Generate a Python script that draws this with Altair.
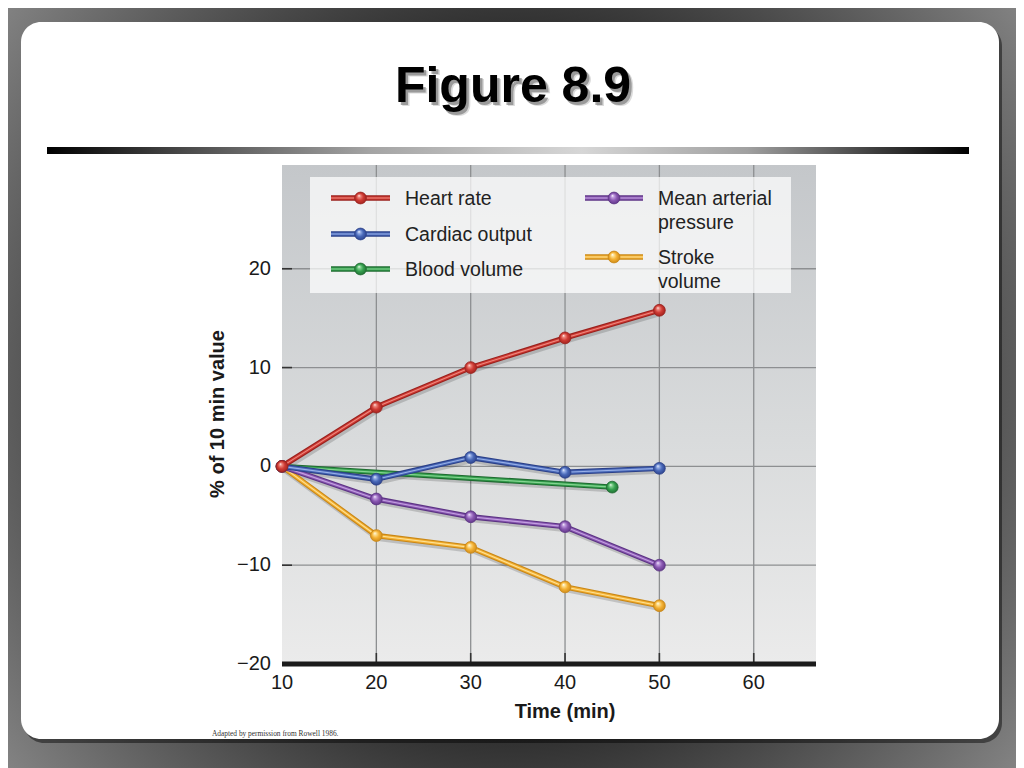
import altair as alt
import pandas as pd

# ---------------- data ----------------
time_min = [10, 20, 30, 40, 50]
heart_rate = [0, 6.0, 10.0, 13.0, 15.8]
cardiac_output = [0, -1.3, 0.9, -0.6, -0.2]
mean_arterial_pressure = [0, -3.3, -5.1, -6.1, -10.0]
stroke_volume = [0, -7.0, -8.2, -12.2, -14.1]
blood_volume_time = [10, 45]
blood_volume = [0, -2.1]

series_names = ["Heart rate", "Cardiac output", "Blood volume",
                "Mean arterial pressure", "Stroke volume"]
legend_labels = ["Heart rate", "Cardiac output", "Blood volume",
                 "Mean arterial\npressure", "Stroke\nvolume"]
x_ticks = [10, 20, 30, 40, 50, 60]
y_ticks = [-20, -10, 0, 10, 20]
grid_x = [20, 30, 40, 50, 60]
grid_y = [-10, 0, 10, 20]

title_text = "Figure 8.9"
x_title = "Time (min)"
y_title = "% of 10 min value"
source_note = "Adapted by permission from Rowell 1986."

# ---------------- styles ----------------
W, H = 534, 499
SVG_W, SVG_H = 1008, 760
PAD_L, PAD_T = 274, 157
FONT = "Liberation Sans"

palette = {  # base, dark edge, light highlight
    "Heart rate": ("#cf3a33", "#9a211d", "#ee8a80"),
    "Cardiac output": ("#4868b8", "#2b4089", "#98b0e8"),
    "Blood volume": ("#35a04e", "#1f6b31", "#86d492"),
    "Mean arterial pressure": ("#8a58b2", "#5c3384", "#c4a2e2"),
    "Stroke volume": ("#f4b032", "#c98716", "#fde296"),
}
values_by_series = {
    "Heart rate": (time_min, heart_rate),
    "Cardiac output": (time_min, cardiac_output),
    "Blood volume": (blood_volume_time, blood_volume),
    "Mean arterial pressure": (time_min, mean_arterial_pressure),
    "Stroke volume": (time_min, stroke_volume),
}
draw_order = ["Stroke volume", "Mean arterial pressure", "Blood volume",
              "Cardiac output", "Heart rate"]

DOMAIN_X = [10, 66.6]
DOMAIN_Y = [-20, 30.5]
xs = alt.Scale(domain=DOMAIN_X, nice=False, zero=False)
ys = alt.Scale(domain=DOMAIN_Y, nice=False, zero=False)
# same scales shifted a little, for the soft drop shadow under the lines
xs_sh = alt.Scale(domain=DOMAIN_X, nice=False, zero=False, range=[1.5, W + 1.5])
ys_sh = alt.Scale(domain=DOMAIN_Y, nice=False, zero=False, range=[H + 2.5, 2.5])

one = pd.DataFrame({"k": [0]})


def box(x0, x1, y0, y1):
    return dict(x=alt.value(x0), x2=alt.value(x1), y=alt.value(y0), y2=alt.value(y1))


def lin(stops, vertical=False):
    return {"gradient": "linear", "x1": 0, "y1": 0,
            "x2": 0 if vertical else 1, "y2": 1 if vertical else 0,
            "stops": [{"offset": o, "color": c} for o, c in stops]}


def ball(base, dark, light):
    return {"gradient": "radial", "x1": 0.36, "y1": 0.3, "r1": 0,
            "x2": 0.5, "y2": 0.5, "r2": 0.55,
            "stops": [{"offset": 0, "color": "#ffffff"},
                      {"offset": 0.2, "color": light},
                      {"offset": 0.55, "color": base},
                      {"offset": 1, "color": dark}]}


def X(field, sc=xs):
    return alt.X(field, scale=sc, axis=None)


def Y(field, sc=ys):
    return alt.Y(field, scale=sc, axis=None)


layers = []

# slide backdrop (square so the radial gradient is circular)
cx, cy = 512 - 8 - PAD_L, 384 - 8 - PAD_T
half = 560
layers.append(alt.Chart(one).mark_rect(fill={
    "gradient": "radial", "x1": 0.5, "y1": 0.5, "r1": 0,
    "x2": 0.5, "y2": 0.5, "r2": 0.6,
    "stops": [{"offset": 0, "color": "#1a1a1a"},
              {"offset": 0.5, "color": "#2b2b2b"},
              {"offset": 1, "color": "#8e8e8e"}]}).encode(
    **box(cx - half, cx + half, cy - half, cy + half)))

# card shadow + card
layers.append(alt.Chart(one).mark_rect(fill="#000000", opacity=0.45, cornerRadius=20).encode(
    **box(21 - 282 + 3, 999 - 282 + 3, 22 - 165 + 4, 739 - 165 + 4)))
layers.append(alt.Chart(one).mark_rect(fill="#ffffff", cornerRadius=20).encode(
    **box(21 - 282, 999 - 282, 22 - 165, 739 - 165)))

# separator bar
layers.append(alt.Chart(one).mark_rect(fill=lin([
    (0, "#000000"), (0.15, "#4a4a4a"), (0.35, "#a4a4a4"), (0.58, "#d6d6d6"),
    (0.76, "#a0a0a0"), (0.9, "#3c3c3c"), (1, "#000000")])).encode(
    **box(47 - 282, 969 - 282, 147 - 165, 154 - 165)))

# title with shadow
for off, col, op in [(4, "#9a9a9a", 0.35), (2.5, "#707070", 0.6)]:
    layers.append(alt.Chart(one).mark_text(font=FONT, fontSize=50, fontWeight="bold",
                                           align="center", baseline="alphabetic",
                                           color=col, opacity=op).encode(
        x=alt.value(513 - 282 + off), y=alt.value(102 - 165 + off), text=alt.value(title_text)))
layers.append(alt.Chart(one).mark_text(font=FONT, fontSize=50, fontWeight="bold",
                                       align="center", baseline="alphabetic",
                                       color="#000000").encode(
    x=alt.value(513 - 282), y=alt.value(102 - 165), text=alt.value(title_text)))

# source note
layers.append(alt.Chart(one).mark_text(font="Liberation Serif", fontSize=7.4, align="left",
                                       baseline="alphabetic", color="#333333").encode(
    x=alt.value(212 - 282), y=alt.value(736 - 165), text=alt.value(source_note)))

# plot background
layers.append(alt.Chart(one).mark_rect(fill=lin([
    (0, "#c4c7ca"), (0.55, "#d9dbdc"), (1, "#ebebeb")], vertical=True)).encode(
    **box(0, W, 0, H)))

# grid
gx = pd.DataFrame({"gx": grid_x})
gy = pd.DataFrame({"gy": grid_y})
layers.append(alt.Chart(gx).mark_rule(color="#8d8f91", strokeWidth=1.3).encode(x=X("gx:Q")))
layers.append(alt.Chart(gy).mark_rule(color="#8d8f91", strokeWidth=1.3).encode(y=Y("gy:Q")))
# inner ticks
layers.append(alt.Chart(gy).mark_rule(color="#333333", strokeWidth=1.6).encode(
    y=Y("gy:Q"), x=alt.value(0), x2=alt.value(10)))
layers.append(alt.Chart(gx).mark_rule(color="#333333", strokeWidth=1.6).encode(
    x=X("gx:Q"), y=alt.value(H - 11), y2=alt.value(H)))
# bottom bar
layers.append(alt.Chart(pd.DataFrame({"yb": [y_ticks[0]]})).mark_rule(
    color="#1b1b1b", strokeWidth=5).encode(y=Y("yb:Q")))

# tick labels through the scales
xt = pd.DataFrame({"t": x_ticks})
yt = pd.DataFrame({"v": y_ticks})
layers.append(alt.Chart(xt).mark_text(font=FONT, fontSize=20, align="center",
                                      baseline="middle", color="#1a1a1a").encode(
    x=X("t:Q"), y=alt.value(H + 19), text=alt.Text("t:Q", format="d")))
layers.append(alt.Chart(yt).mark_text(font=FONT, fontSize=20, align="right",
                                      baseline="middle", color="#1a1a1a").encode(
    y=Y("v:Q"), x=alt.value(-11), text=alt.Text("v:Q", format="d")))
# axis titles
layers.append(alt.Chart(one).mark_text(font=FONT, fontSize=20, fontWeight="bold",
                                       align="center", baseline="middle",
                                       color="#1a1a1a").encode(
    x=alt.value(565 - 282), y=alt.value(712 - 165), text=alt.value(x_title)))
layers.append(alt.Chart(one).mark_text(font=FONT, fontSize=20, fontWeight="bold",
                                       align="center", baseline="middle", angle=270,
                                       color="#1a1a1a").encode(
    x=alt.value(218 - 282), y=alt.value(414 - 165), text=alt.value(y_title)))

# series
series_frames = {}
for name in draw_order:
    t, v = values_by_series[name]
    series_frames[name] = pd.DataFrame({"t": t, "v": v})

# soft shadows first, under all lines
for name in draw_order:
    df = series_frames[name]
    layers.append(alt.Chart(df).mark_line(color="#000000", opacity=0.16, strokeWidth=6,
                                          strokeCap="round", strokeJoin="round").encode(
        x=X("t:Q", xs_sh), y=Y("v:Q", ys_sh)))

for name in draw_order:
    base, dark, light = palette[name]
    df = series_frames[name]
    for col, sw in [(dark, 5.4), (base, 3.2), (light, 1.1)]:
        layers.append(alt.Chart(df).mark_line(color=col, strokeWidth=sw, strokeCap="round",
                                              strokeJoin="round").encode(
            x=X("t:Q"), y=Y("v:Q")))
    pts = df if name != "Blood volume" else df.iloc[1:]
    layers.append(alt.Chart(pts).mark_circle(size=140, fill=ball(base, dark, light),
                                             stroke=dark, strokeWidth=0.8, opacity=1).encode(
        x=X("t:Q"), y=Y("v:Q")))

# legend box
layers.append(alt.Chart(one).mark_rect(fill="#ffffff", opacity=0.72).encode(
    **box(310 - 282, 791 - 282, 177 - 165, 293 - 165)))

legend_pos = {  # (line x0, line x1, text x, row centre y) in plot pixels
    "Heart rate": (49, 108, 123, 33),
    "Cardiac output": (49, 108, 123, 69),
    "Blood volume": (49, 108, 123, 104),
    "Mean arterial pressure": (303, 361, 376, 33),
    "Stroke volume": (303, 361, 376, 92),
}
for name, label in zip(series_names, legend_labels):
    base, dark, light = palette[name]
    x0, x1, tx, ry = legend_pos[name]
    for col, sw in [(dark, 5.4), (base, 3.2), (light, 1.1)]:
        layers.append(alt.Chart(one).mark_rule(color=col, strokeWidth=sw).encode(
            x=alt.value(x0), x2=alt.value(x1), y=alt.value(ry)))
    layers.append(alt.Chart(one).mark_circle(size=140, fill=ball(base, dark, light),
                                             stroke=dark, strokeWidth=0.8, opacity=1).encode(
        x=alt.value((x0 + x1) / 2), y=alt.value(ry)))
    layers.append(alt.Chart(one).mark_text(font=FONT, fontSize=19.5, align="left",
                                           baseline="alphabetic", color="#222222",
                                           lineBreak="\n", lineHeight=24).encode(
        x=alt.value(tx), y=alt.value(ry + 7), text=alt.value(label)))

chart = alt.layer(*layers).resolve_scale(
    x="independent", y="independent"
).properties(
    width=W, height=H,
    padding={"left": PAD_L, "top": PAD_T, "right": SVG_W - PAD_L - W,
             "bottom": SVG_H - PAD_T - H},
    autosize=alt.AutoSizeParams(type="none"),
    background="#2a2a2a",
).configure_view(stroke=None)

chart.save("out.html", embed_options={"renderer": "svg", "actions": False})
